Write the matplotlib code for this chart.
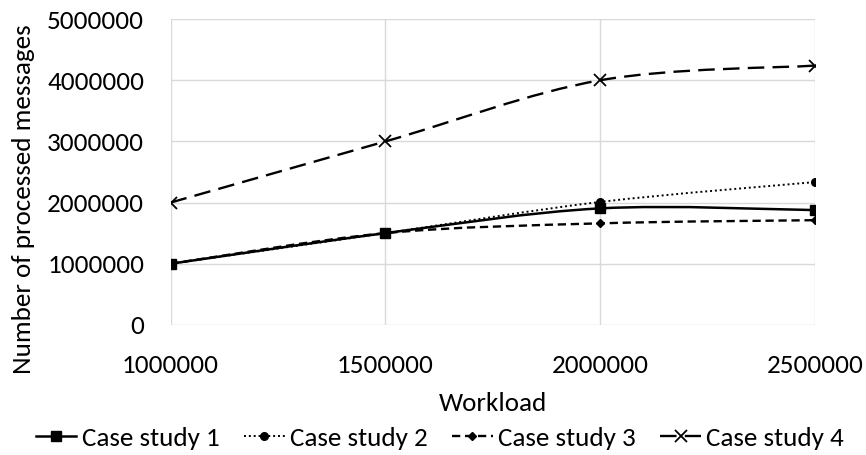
import numpy as np
import matplotlib.pyplot as plt
from matplotlib.path import Path
from matplotlib.patches import PathPatch
from matplotlib.lines import Line2D

plt.rcParams['font.family'] = ['Carlito', 'Liberation Sans', 'DejaVu Sans']

workload = [1000000, 1500000, 2000000, 2500000]
case1 = [1000000, 1500000, 1905000, 1877000]
case2 = [1000000, 1500000, 2010000, 2335000]
case3 = [1000000, 1500000, 1660000, 1712000]
case4 = [2000000, 3000000, 4000000, 4240000]
labels = ['Case study 1', 'Case study 2', 'Case study 3', 'Case study 4']

styles = [
    dict(ls='-', lw=1.8, marker='s', ms=6.5),
    dict(ls=(0, (1, 1.5)), lw=1.4, marker='o', ms=5.5),
    dict(ls=(0, (3.5, 2)), lw=1.7, marker='D', ms=4.5),
    dict(ls=(0, (7, 3.5)), lw=1.7, marker='x', ms=8, mew=1.3),
]

FS = 19.5


def smooth_path(x, y):
    # excel-like smoothed line: catmull-rom as cubic bezier segments
    pts = np.column_stack([x, y]).astype(float)
    ext = np.vstack([pts[0], pts, pts[-1]])
    verts = [pts[0]]
    codes = [Path.MOVETO]
    for i in range(1, len(ext) - 2):
        p0, p1, p2, p3 = ext[i - 1], ext[i], ext[i + 1], ext[i + 2]
        verts += [p1 + (p2 - p0) / 6, p2 - (p3 - p1) / 6, p2]
        codes += [Path.CURVE4] * 3
    return Path(verts, codes)


fig = plt.figure(figsize=(8.66, 4.55), dpi=100)
ax = fig.add_axes([0.197, 0.286, 0.744, 0.672])

handles = []
for ys, st, lab in zip([case1, case2, case3, case4], styles, labels):
    patch = PathPatch(smooth_path(workload, ys), fill=False, edgecolor='black',
                      linestyle=st['ls'], lw=st['lw'], zorder=3)
    ax.add_patch(patch)
    ax.plot(workload, ys, ls='none', marker=st['marker'], ms=st['ms'],
            color='black', mew=st.get('mew', 1), zorder=4)
    handles.append(Line2D([], [], color='black', ls=st['ls'], lw=st['lw'],
                          marker=st['marker'], ms=st['ms'], mew=st.get('mew', 1)))

ax.set_xlim(1000000, 2500000)
ax.set_ylim(0, 5000000)
ax.set_xticks(workload)
ax.set_yticks(np.arange(0, 5000001, 1000000))
ax.set_xticklabels([str(v) for v in workload])
ax.set_yticklabels([str(v) for v in range(0, 5000001, 1000000)])
ax.grid(True, color='#d9d9d9', lw=1)
ax.set_axisbelow(True)
for s in ax.spines.values():
    s.set_visible(False)
ax.tick_params(axis='y', length=0, labelsize=FS, pad=19)
ax.tick_params(axis='x', length=0, labelsize=FS, pad=21)
ax.set_xlabel('Workload', fontsize=FS)
ax.xaxis.set_label_coords(0.5, -0.22)
ax.set_ylabel('Number of processed messages', fontsize=FS)
ax.yaxis.set_label_coords(-0.21, 0.41)

fig.legend(handles, labels, loc='center', bbox_to_anchor=(0.508, 0.037), ncol=4,
           frameon=False, fontsize=FS, handlelength=1.5, handletextpad=0.2,
           columnspacing=0.9)

fig.savefig('out.png', dpi=100)
